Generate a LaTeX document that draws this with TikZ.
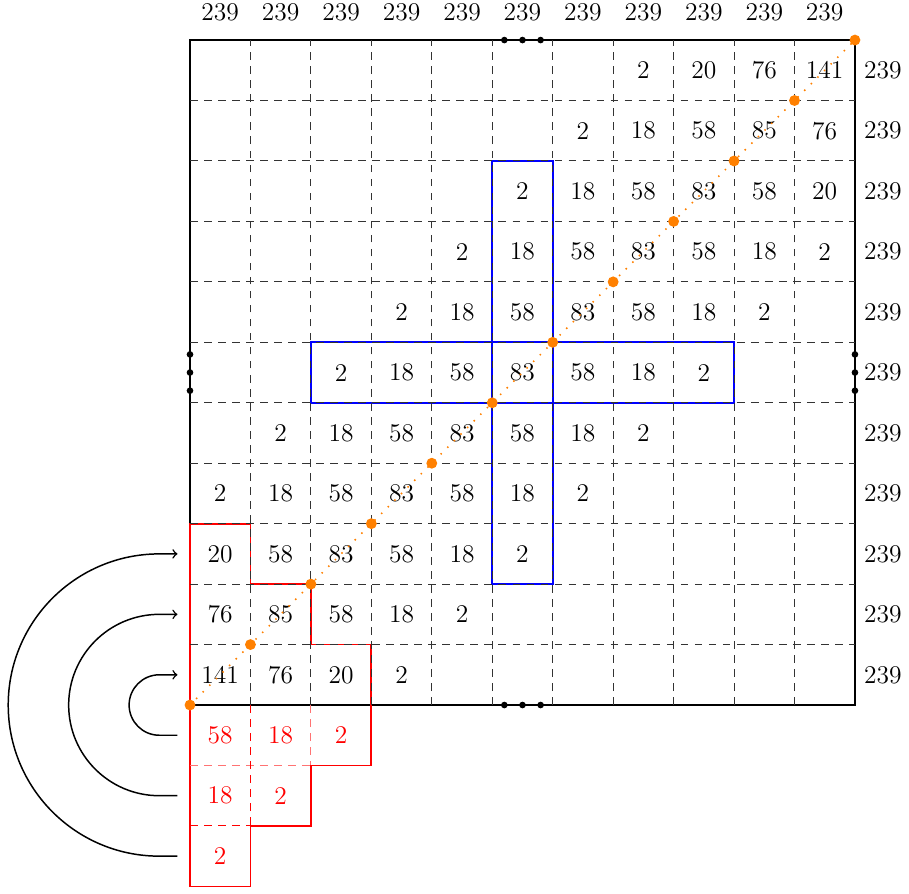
\documentclass[tikz,border=0pt]{standalone}
\usetikzlibrary{calc}
\begin{document}
\begin{tikzpicture}[
  cell/.style={minimum width=1cm, minimum height=1cm, inner sep=0pt, font=\fontsize{12}{14}\selectfont},
  redcell/.style={cell, text=red},
  lbl/.style={inner sep=0pt, font=\fontsize{12}{14}\selectfont},
  gridline/.style={dash pattern=on 3.6pt off 3pt, line width=0.5pt, black!80},
  border/.style={line width=0.8pt},
  blueshape/.style={blue, line width=0.8pt},
  redshape/.style={red, line width=0.8pt},
  reddash/.style={red, dash pattern=on 3.6pt off 3pt, line width=0.5pt},
  lightreddash/.style={red!55, dash pattern=on 3.6pt off 3pt, line width=0.5pt},
  bdot/.style={circle, fill=black, inner sep=0pt, minimum size=0.11cm},
  odot/.style={circle, fill=orange, inner sep=0pt, minimum size=0.18cm},
  diag/.style={orange, line width=1pt, dash pattern=on 0pt off 4.4pt, line cap=round},
  looparrow/.style={->, line width=0.7pt},
]
\useasboundingbox (-3.143,-3.110) rectangle (11.894,11.663);

% outer border
\draw[border] (0,0) rectangle (11,11);

% red and blue shapes
\draw[redshape] (0,3) -- (1,3) -- (1,2) -- (2,2) -- (2,1) -- (3,1) -- (3,-1) -- (2,-1) -- (2,-2) -- (1,-2) -- (1,-3) -- (0,-3) -- cycle;
\draw[blueshape] (5,2) rectangle (6,9);
\draw[blueshape] (2,5) rectangle (9,6);

% dashed grid
\foreach \k in {1,...,10} {
  \draw[gridline] (\k,0) -- (\k,11);
  \draw[gridline] (0,\k) -- (11,\k);
}
\draw[lightreddash] (0,-1) -- (2,-1);
\draw[lightreddash] (2,0) -- (2,-1);
\draw[reddash] (1,0) -- (1,-2);
\draw[reddash] (0,-2) -- (1,-2);

% cell values
\foreach \r/\c/\v in {
  0/7/2, 0/8/20, 0/9/76, 0/10/141,
  1/6/2, 1/7/18, 1/8/58, 1/9/85, 1/10/76,
  2/5/2, 2/6/18, 2/7/58, 2/8/83, 2/9/58, 2/10/20,
  3/4/2, 3/5/18, 3/6/58, 3/7/83, 3/8/58, 3/9/18, 3/10/2,
  4/3/2, 4/4/18, 4/5/58, 4/6/83, 4/7/58, 4/8/18, 4/9/2,
  5/2/2, 5/3/18, 5/4/58, 5/5/83, 5/6/58, 5/7/18, 5/8/2,
  6/1/2, 6/2/18, 6/3/58, 6/4/83, 6/5/58, 6/6/18, 6/7/2,
  7/0/2, 7/1/18, 7/2/58, 7/3/83, 7/4/58, 7/5/18, 7/6/2,
  8/0/20, 8/1/58, 8/2/83, 8/3/58, 8/4/18, 8/5/2,
  9/0/76, 9/1/85, 9/2/58, 9/3/18, 9/4/2,
  10/0/141, 10/1/76, 10/2/20, 10/3/2}
  \node[cell] (c\r-\c) at (\c+0.5, 10.5-\r) {\v};

\foreach \r/\c/\v in {11/0/58, 11/1/18, 11/2/2, 12/0/18, 12/1/2, 13/0/2}
  \node[redcell] (c\r-\c) at (\c+0.5, 10.5-\r) {\v};

% border labels
\foreach \k in {0,...,10} {
  \node[lbl] (top\k) at (\k+0.5, 11.46) {239};
  \node[lbl] (right\k) at (11.46, 10.5-\k) {239};
}

% black dots on the border
\foreach \i/\d in {1/-0.3, 2/0, 3/0.3} {
  \node[bdot] (dt\i) at (5.5+\d, 11) {};
  \node[bdot] (db\i) at (5.5+\d, 0) {};
  \node[bdot] (dl\i) at (0, 5.5+\d) {};
  \node[bdot] (dr\i) at (11, 5.5+\d) {};
}

% orange diagonal
\coordinate (d0) at (0,0);
\coordinate (d11) at (11,11);
\draw[diag] (d0) -- (d11);
\foreach \k in {0,...,11}
  \node[odot] (o\k) at (\k,\k) {};

% looping arrows
\foreach \a/\b/\rad in {11/10/0.5, 12/9/1.5, 13/8/2.5}
  \draw[looparrow] ($(c\a-0.west)+(-0.2,0)$) -- ++(-0.3,0)
    arc[start angle=270, end angle=90, radius=\rad] -- ($(c\b-0.west)+(-0.2,0)$);

\end{tikzpicture}
\end{document}
